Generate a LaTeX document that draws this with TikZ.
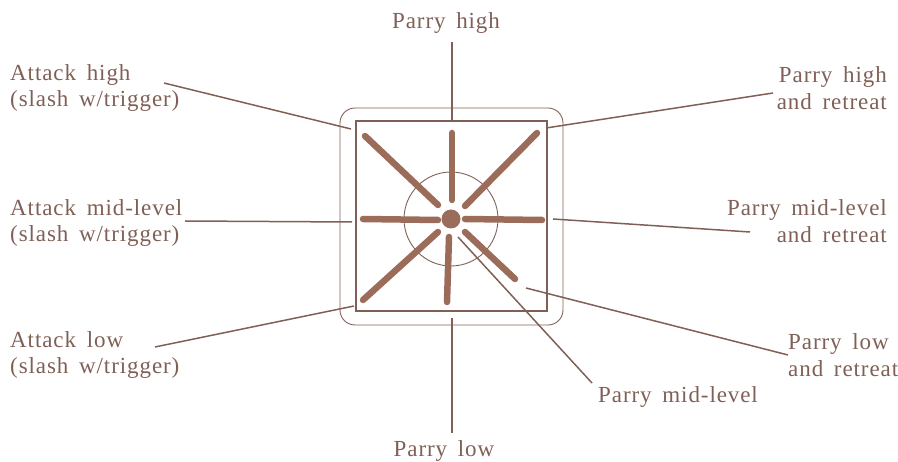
\documentclass[tikz,border=0pt]{standalone}
\usepackage{fontspec}
\setmainfont[LetterSpace=4,WordSpace=1.6]{Liberation Serif}
\definecolor{ink}{RGB}{128,96,86}
\definecolor{spoke}{RGB}{156,108,90}
\begin{document}
\begin{tikzpicture}[x=1pt,y=-1pt,
  lbl/.style={text=ink,inner sep=0pt,font=\fontsize{23}{25}\selectfont},
  leader/.style={draw=ink,line width=1.5pt},
  thin/.style={draw=ink,line width=0.9pt},
  spk/.style={draw=spoke,line width=6.5pt,line cap=round}]
\useasboundingbox (0,0) rectangle (898,462);
% frames
\draw[thin,rounded corners=15pt] (340,108) rectangle (563,325);
\draw[thin,line width=1.2pt] (356,121) rectangle (547,311);
\node[draw=ink,line width=0.9pt,circle,minimum size=94pt,inner sep=0pt] (ring) at (451,219) {};
\node[fill=spoke,circle,minimum size=19pt,inner sep=0pt] (dot) at (451,219) {};
% spokes
\draw[spk] (452,133) -- (452,200);
\draw[spk] (449,237) -- (447,302);
\draw[spk] (363,219) -- (438,220);
\draw[spk] (465,219) -- (542,220);
\draw[spk] (365,136) -- (438,205);
\draw[spk] (537,133) -- (465,206);
\draw[spk] (438,232) -- (363,300);
\draw[spk] (465,232) -- (515,279);
% labels
\node[lbl,anchor=base] (ph) at (446,29) {Parry high};
\node[lbl,anchor=base] (pl) at (444,457) {Parry low};
\node[lbl,anchor=base west,align=left] (ah) at (10,107) {Attack high\\[1pt](slash w/trigger)};
\node[lbl,anchor=base west,align=left] (am) at (10,242) {Attack mid-level\\[1pt](slash w/trigger)};
\node[lbl,anchor=base west,align=left] (al) at (10,374) {Attack low\\[1pt](slash w/trigger)};
\node[lbl,anchor=base east,align=right] (phr) at (887,110) {Parry high\\[2pt]and retreat};
\node[lbl,anchor=base east,align=right] (pmr) at (887,243) {Parry mid-level\\[2pt]and retreat};
\node[lbl,anchor=base west,align=left] (plr) at (788,377) {Parry low\\[2pt]and retreat};
\node[lbl,anchor=base west] (pm) at (598,403) {Parry mid-level};
% leader end points
\coordinate (eph) at (452,122);
\coordinate (epl) at (452,318);
\coordinate (eah) at (351,129);
\coordinate (eam) at (352,222);
\coordinate (eal) at (354,306);
\coordinate (ephr) at (546,128);
\coordinate (epmr) at (553,219);
\coordinate (eplr) at (526,288);
\coordinate (epm) at (458,237);
\coordinate (sph) at (452,42);
\coordinate (spl) at (452,433);
\coordinate (sah) at (164,83);
\coordinate (sam) at (185,221);
\coordinate (sal) at (155,347);
\coordinate (sphr) at (773,93);
\coordinate (spmr) at (750,232);
\coordinate (splr) at (788,355);
\coordinate (spm) at (592,383);
\draw[leader] (sph) -- (eph);
\draw[leader] (spl) -- (epl);
\draw[leader] (sah) -- (eah);
\draw[leader] (sam) -- (eam);
\draw[leader] (sal) -- (eal);
\draw[leader] (sphr) -- (ephr);
\draw[leader] (spmr) -- (epmr);
\draw[leader] (splr) -- (eplr);
\draw[leader] (spm) -- (epm);
\end{tikzpicture}
\end{document}
